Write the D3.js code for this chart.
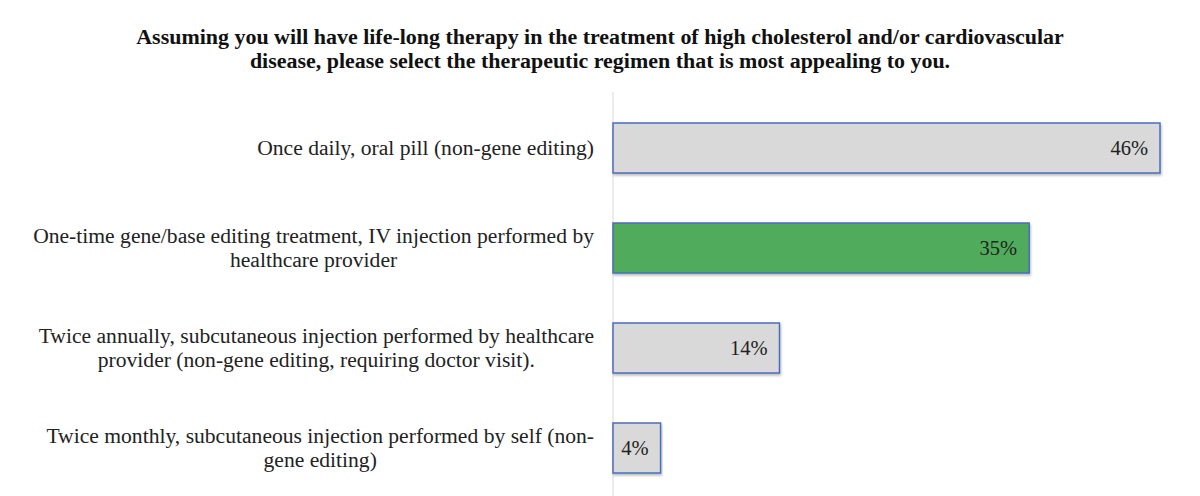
<!DOCTYPE html>
<html><head><meta charset="utf-8">
<script src="https://cdn.jsdelivr.net/npm/d3@7"></script>
<style>body{margin:0;background:#fff}</style>
</head><body>
<script>
const titleLines = ["Assuming you will have life-long therapy in the treatment of  high cholesterol and/or cardiovascular",
  "disease, please select the therapeutic regimen that is most appealing to you."];
const categories = [
  ["Once daily, oral pill (non-gene editing)"],
  ["One-time gene/base editing treatment, IV injection performed by", "healthcare provider"],
  ["Twice annually, subcutaneous injection performed by healthcare", "provider (non-gene editing, requiring doctor visit)."],
  ["Twice monthly, subcutaneous injection performed by self (non-", "gene editing)"]
];
const values = [46, 35, 14, 4];
const colors = ["#d9d9d9", "#51ab5b", "#d9d9d9", "#d9d9d9"];

const W = 1200, H = 496;
const svg = d3.select("body").append("svg").attr("width", W).attr("height", H);
const defs = svg.append("defs");
const f = defs.append("filter").attr("id","sh").attr("x","-5%").attr("y","-20%").attr("width","110%").attr("height","150%");
f.append("feDropShadow").attr("dx",1).attr("dy",2).attr("stdDeviation",1.2).attr("flood-color","#000").attr("flood-opacity",0.25);

const x0 = 613;
const x = d3.scaleLinear().domain([0, 46]).range([x0, 1160]);
const y = d3.scaleBand().domain(d3.range(values.length)).range([98, 498]).paddingInner(0.5).paddingOuter(0.25);

const font = "'Liberation Serif', 'Times New Roman', serif";

const tg = svg.append("g").selectAll("text").data(titleLines).join("text")
  .attr("x", 600).attr("y", (d,i) => 44 + i*24)
  .attr("text-anchor","middle").attr("font-family", font).attr("font-weight","bold")
  .attr("font-size", 18).attr("fill","#111").text(d => d);
// fit title width to reference line width
tg.each(function(d,i){ if(i===0){ const w=this.getComputedTextLength(); const s = 928/w; tg.attr("font-size", 18*s);} });

svg.append("line").attr("x1", x0).attr("x2", x0).attr("y1", 92).attr("y2", H)
  .attr("stroke","#d9d9d9").attr("stroke-width",1);

svg.append("g").selectAll("rect").data(values).join("rect")
  .attr("x", x(0)).attr("y", (d,i) => y(i))
  .attr("width", d => x(d) - x(0)).attr("height", y.bandwidth())
  .attr("fill", (d,i) => colors[i]).attr("stroke","#4a6cbf").attr("stroke-width",1.5)
  .attr("filter","url(#sh)");

svg.append("g").selectAll("text").data(values).join("text")
  .attr("x", d => x(d) - 12).attr("y", (d,i) => y(i) + y.bandwidth()/2 + 7)
  .attr("text-anchor","end").attr("font-family", font).attr("font-size", 20.5)
  .attr("fill","#222").text(d => d + "%");

const lg = svg.append("g");
const lfs = 21.6;
categories.forEach((lines, i) => {
  const cy = y(i) + y.bandwidth()/2;
  const n = lines.length;
  const texts = lines.map((t, j) => lg.append("text")
      .attr("y", cy + 7 + (j - (n-1)/2) * 24)
      .attr("text-anchor","middle").attr("font-family", font).attr("font-size", lfs)
      .attr("fill","#222").text(t));
  const maxW = d3.max(texts, s => s.node().getComputedTextLength());
  texts.forEach(s => s.attr("x", 594 - maxW/2));
});
</script>
</body></html>
